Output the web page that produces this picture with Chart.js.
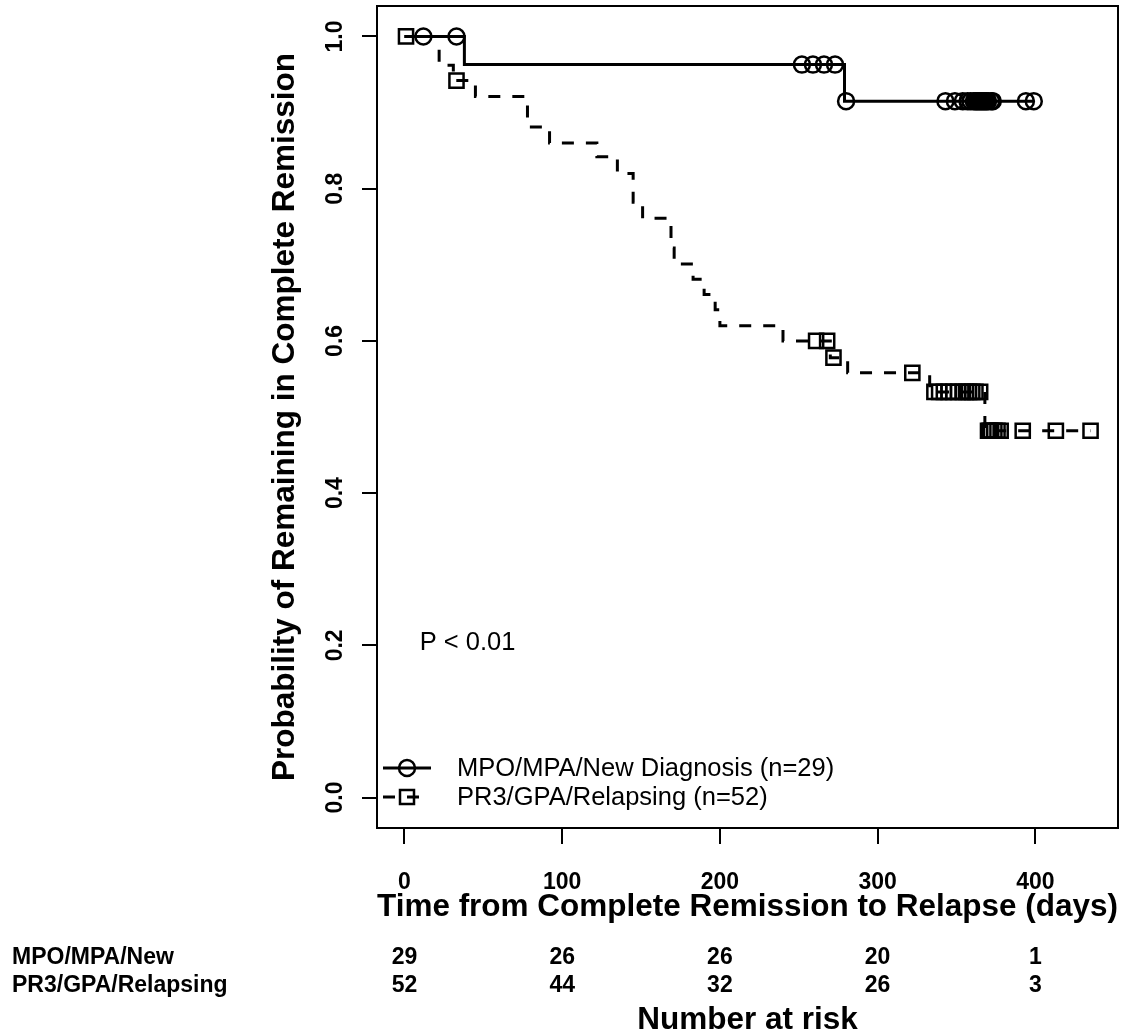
<!DOCTYPE html>
<html>
<head>
<meta charset="utf-8">
<script src="https://cdn.jsdelivr.net/npm/chart.js@4.4.0/dist/chart.umd.min.js"></script>
<style>
html,body{margin:0;padding:0;background:#fff}
#wrap{width:1123px;height:1036px;position:relative}
</style>
</head>
<body>
<div id="wrap"><canvas id="km"></canvas></div>
<script>
// risk table
const riskTimes = [0, 100, 200, 300, 400];
const mpoRisk = [29, 26, 26, 20, 1];
const pr3Risk = [52, 44, 32, 26, 3];
const yTicks = [0, 0.2, 0.4, 0.6, 0.8, 1.0];

// MPO/MPA/New Diagnosis: step times and survival after each step
const mpoTimes = [0, 38, 279];
const mpoSurv = [1, 0.963, 0.915];
const mpoCensor = [12, 33, 252, 259, 266, 273, 280, 343, 349, 354, 357, 359, 361, 362, 363,
  364, 365, 366, 367, 368, 369, 370, 372, 373, 394, 399];

// PR3/GPA/Relapsing
const pr3Times = [0, 22, 31, 45, 78, 92, 122, 135, 145, 151, 169, 171, 183, 190, 197, 200, 240, 270, 281, 333, 368];
const pr3Surv = [1, 0.962, 0.942, 0.921, 0.881, 0.860, 0.842, 0.820, 0.782, 0.761, 0.722, 0.701,
  0.681, 0.661, 0.641, 0.620, 0.600, 0.578, 0.558, 0.533, 0.482];
const pr3Censor = [1, 33, 261, 268, 272, 322, 336, 339, 342, 345, 348, 351, 354, 356, 358, 360, 362, 365,
  370, 371, 372, 374, 376, 378, 392, 413, 435];

const SANS = '"Liberation Sans", Arial, sans-serif';

function survAt(times, surv, t) {
  let s = surv[0];
  for (let i = 0; i < times.length; i++) if (times[i] <= t) s = surv[i];
  return s;
}
function curve(times, surv, censor) {
  const pts = times.map((t, i) => ({x: t, y: surv[i]}));
  const last = Math.max(...censor);
  if (last > times[times.length - 1]) pts.push({x: last, y: surv[surv.length - 1]});
  return pts;
}
function marks(times, surv, censor) {
  return censor.map(t => ({x: t, y: survAt(times, surv, t)}));
}

const chartBits = {
  id: 'chartBits',
  afterDraw(chart) {
    const {ctx, chartArea: a, scales: {x, y}} = chart;
    ctx.save();
    // box round the plot
    ctx.strokeStyle = '#000';
    ctx.lineWidth = 2;
    ctx.strokeRect(a.left, a.top, a.right - a.left, a.bottom - a.top);

    // p value
    ctx.fillStyle = '#000';
    ctx.font = '25.5px ' + SANS;
    ctx.textAlign = 'center';
    ctx.textBaseline = 'middle';
    ctx.fillText('P < 0.01', x.getPixelForValue(40), y.getPixelForValue(0.2) - 2);

    // legend
    const items = [
      {label: 'MPO/MPA/New Diagnosis (n=29)', ds: chart.data.datasets[1], dash: []},
      {label: 'PR3/GPA/Relapsing (n=52)', ds: chart.data.datasets[3], dash: [12, 12]}
    ];
    items.forEach((it, i) => {
      const ly = 768 + i * 29;
      ctx.setLineDash(it.dash);
      ctx.lineWidth = 3;
      ctx.beginPath();
      ctx.moveTo(a.left + 6, ly);
      ctx.lineTo(a.left + 54, ly);
      ctx.stroke();
      ctx.setLineDash([]);
      ctx.lineWidth = 2.5;
      ctx.beginPath();
      if (it.ds.pointStyle === 'circle') {
        ctx.arc(a.left + 30, ly, 8, 0, Math.PI * 2);
      } else {
        ctx.rect(a.left + 23, ly - 7, 14, 14);
      }
      ctx.stroke();
      ctx.textAlign = 'left';
      ctx.font = '25.5px ' + SANS;
      ctx.fillText(it.label, 457, ly + 1);
    });

    // number at risk table
    ctx.font = 'bold 23px ' + SANS;
    ctx.textAlign = 'left';
    ctx.fillText('MPO/MPA/New', 12, 958);
    ctx.fillText('PR3/GPA/Relapsing', 12, 986);
    ctx.textAlign = 'center';
    riskTimes.forEach((t, i) => {
      const px = x.getPixelForValue(t);
      ctx.fillText(String(mpoRisk[i]), px, 958);
      ctx.fillText(String(pr3Risk[i]), px, 986);
    });
    ctx.font = 'bold 31.5px ' + SANS;
    ctx.fillText('Number at risk', (a.left + a.right) / 2, 1020);
    ctx.restore();
  }
};

new Chart(document.getElementById('km'), {
  type: 'scatter',
  data: {
    datasets: [
      {
        label: 'MPO/MPA/New Diagnosis (n=29)',
        data: curve(mpoTimes, mpoSurv, mpoCensor),
        showLine: true, stepped: 'before',
        borderColor: '#000', borderWidth: 3, pointRadius: 0
      },
      {
        label: 'MPO censored',
        data: marks(mpoTimes, mpoSurv, mpoCensor),
        showLine: false, pointStyle: 'circle', pointRadius: 8,
        pointBackgroundColor: 'rgba(0,0,0,0)', pointBorderColor: '#000', pointBorderWidth: 2.5
      },
      {
        label: 'PR3/GPA/Relapsing (n=52)',
        data: curve(pr3Times, pr3Surv, pr3Censor),
        showLine: true, stepped: 'before', borderDash: [12, 12],
        borderColor: '#000', borderWidth: 3, pointRadius: 0
      },
      {
        label: 'PR3 censored',
        data: marks(pr3Times, pr3Surv, pr3Censor),
        showLine: false, pointStyle: 'rect', pointRadius: 10,
        pointBackgroundColor: 'rgba(0,0,0,0)', pointBorderColor: '#000', pointBorderWidth: 2.5
      }
    ]
  },
  options: {
    responsive: true,
    maintainAspectRatio: false,
    animation: false,
    layout: {autoPadding: false, padding: {left: 262, top: 6, right: 5, bottom: 106}},
    plugins: {legend: {display: false}, tooltip: {enabled: false}},
    scales: {
      x: {
        type: 'linear', min: -17.4, max: 452.4,
        afterBuildTicks: s => { s.ticks = riskTimes.map(v => ({value: v})); },
        afterFit: s => { s.height = 102; s.paddingLeft = 0; s.paddingRight = 0; },
        border: {display: true, color: '#000', width: 2},
        grid: {drawOnChartArea: false, drawTicks: true, tickLength: 16, color: '#000', lineWidth: 2},
        ticks: {color: '#000', padding: 25, maxRotation: 0, font: {family: SANS, size: 23, weight: 'bold'}},
        title: {display: true, text: 'Time from Complete Remission to Relapse (days)', color: '#000',
          font: {family: SANS, size: 31.5, weight: 'bold'}}
      },
      y: {
        type: 'linear', min: -0.04, max: 1.04,
        afterBuildTicks: s => { s.ticks = yTicks.map(v => ({value: v})); },
        afterFit: s => { s.width = 115; s.paddingTop = 0; s.paddingBottom = 0; },
        border: {display: true, color: '#000', width: 2},
        grid: {drawOnChartArea: false, drawTicks: true, tickLength: 15, color: '#000', lineWidth: 2},
        ticks: {color: '#000', padding: 10, minRotation: 90, maxRotation: 90, crossAlign: 'center',
          callback: v => v.toFixed(1), font: {family: SANS, size: 23, weight: 'bold'}},
        title: {display: true, text: 'Probability of Remaining in Complete Remission', color: '#000',
          font: {family: SANS, size: 31.5, weight: 'bold'}}
      }
    }
  },
  plugins: [chartBits]
});
</script>
</body>
</html>
